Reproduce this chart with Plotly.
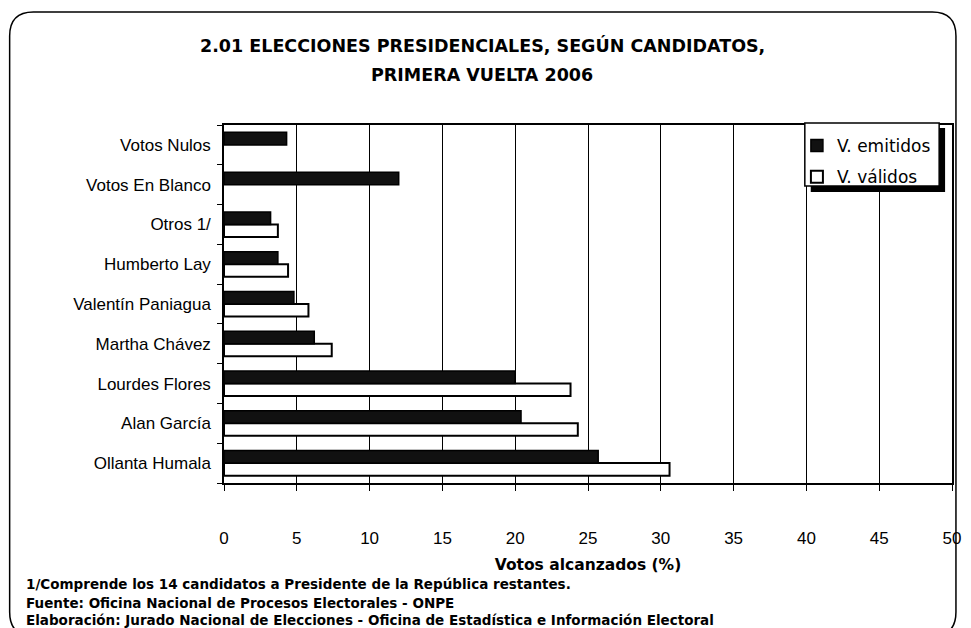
import plotly.graph_objects as go

# Datos (orden de abajo hacia arriba)
categorias = ["Ollanta Humala", "Alan García", "Lourdes Flores", "Martha Chávez",
              "Valentín Paniagua", "Humberto Lay", "Otros 1/",
              "Votos En Blanco", "Votos Nulos"]
v_emitidos = [25.7, 20.4, 20.0, 6.2, 4.8, 3.7, 3.2, 12.0, 4.3]
v_validos = [30.6, 24.3, 23.8, 7.4, 5.8, 4.4, 3.7, None, None]
x_ticks = [0, 5, 10, 15, 20, 25, 30, 35, 40, 45, 50]

W, H = 971, 628
L, R, T, B = 224, 10, 125, 145
PW, PH = W - L - R, H - T - B


def px_x(x):
    return (x - L) / PW


def px_y(y):
    return (H - B - y) / PH


FONT = "Liberation Sans, Arial, sans-serif"
BOLD = "DejaVu Sans, Arial, sans-serif"

fig = go.Figure()

# válidos primero -> queda debajo en cada grupo
fig.add_trace(go.Bar(
    y=categorias, x=v_validos, orientation="h", name="V. válidos",
    marker=dict(color="white", line=dict(color="black", width=2)),
    legendrank=2, legendgroup="b",
))
fig.add_trace(go.Bar(
    y=categorias, x=v_emitidos, orientation="h", name="V. emitidos",
    marker=dict(color="#111111", line=dict(color="black", width=1.5)),
    legendrank=1, legendgroup="a",
))

# caja de la leyenda con sombra
fig.add_shape(type="rect", xref="paper", yref="paper",
              x0=px_x(818), x1=px_x(954), y0=px_y(192), y1=px_y(128),
              fillcolor="black", line=dict(width=0), layer="above")
fig.add_shape(type="rect", xref="paper", yref="paper",
              x0=px_x(812), x1=px_x(948), y0=px_y(186), y1=px_y(123),
              fillcolor="white", line=dict(color="black", width=1.5), layer="above")

# marco redondeado exterior
x0, x1, y0, y1, r = 7, 965, 12, 636, 24
path = (f"M {px_x(x0 + r)},{px_y(y0)} L {px_x(x1 - r)},{px_y(y0)} "
        f"Q {px_x(x1)},{px_y(y0)} {px_x(x1)},{px_y(y0 + r)} "
        f"L {px_x(x1)},{px_y(y1 - r)} Q {px_x(x1)},{px_y(y1)} {px_x(x1 - r)},{px_y(y1)} "
        f"L {px_x(x0 + r)},{px_y(y1)} Q {px_x(x0)},{px_y(y1)} {px_x(x0)},{px_y(y1 - r)} "
        f"L {px_x(x0)},{px_y(y0 + r)} Q {px_x(x0)},{px_y(y0)} {px_x(x0 + r)},{px_y(y0)} Z")
fig.add_shape(type="path", xref="paper", yref="paper", path=path,
              line=dict(color="black", width=1.5))

# título
for texto, yy in [("2.01 ELECCIONES PRESIDENCIALES, SEGÚN CANDIDATOS,", 45),
                  ("PRIMERA VUELTA 2006", 75)]:
    fig.add_annotation(x=px_x(W / 2), y=px_y(yy), xref="paper", yref="paper",
                       text=f"<b>{texto}</b>", showarrow=False, yanchor="middle",
                       font=dict(family=BOLD, size=17.5, color="black"))

# notas
notas = [("1/Comprende los 14 candidatos a Presidente de la República restantes.", 584),
         ("Fuente: Oficina Nacional de Procesos Electorales - ONPE", 603),
         ("Elaboración: Jurado Nacional de Elecciones - Oficina de Estadística e Información Electoral", 620)]
for texto, yy in notas:
    fig.add_annotation(x=px_x(22), y=px_y(yy), xref="paper", yref="paper",
                       text=f"<b>{texto}</b>", showarrow=False,
                       xanchor="left", yanchor="middle",
                       font=dict(family=BOLD, size=13.5, color="black"))

fig.update_layout(
    width=W, height=H,
    margin=dict(l=L, r=R, t=T, b=B),
    paper_bgcolor="white", plot_bgcolor="white",
    barmode="group", bargap=0.37, bargroupgap=0,
    font=dict(family=FONT, size=17, color="black"),
    showlegend=True,
    legend=dict(x=px_x(804), xanchor="left", y=px_y(128), yanchor="top",
                bgcolor="rgba(0,0,0,0)", borderwidth=0,
                font=dict(family="DejaVu Sans, sans-serif", size=17),
                itemwidth=30, tracegroupgap=6, traceorder="grouped"),
    xaxis=dict(
        range=[0, 50], tickvals=x_ticks, showgrid=True, gridcolor="black",
        gridwidth=1, showline=True, linecolor="black", linewidth=1.5,
        mirror=True, ticks="outside", ticklen=6, tickcolor="black",
        ticklabelstandoff=33, zeroline=False,
        title=dict(text="<b>Votos alcanzados (%)</b>", standoff=12,
                   font=dict(family=BOLD, size=15.5)),
    ),
    yaxis=dict(
        showline=True, linecolor="black", linewidth=1.5, mirror=True,
        ticks="outside", tickson="boundaries", ticklen=5, tickcolor="black",
        ticklabelstandoff=8, showgrid=False,
    ),
)

fig.write_html("out.html", config={"displayModeBar": False},
               post_script="document.body.style.margin='0';")
